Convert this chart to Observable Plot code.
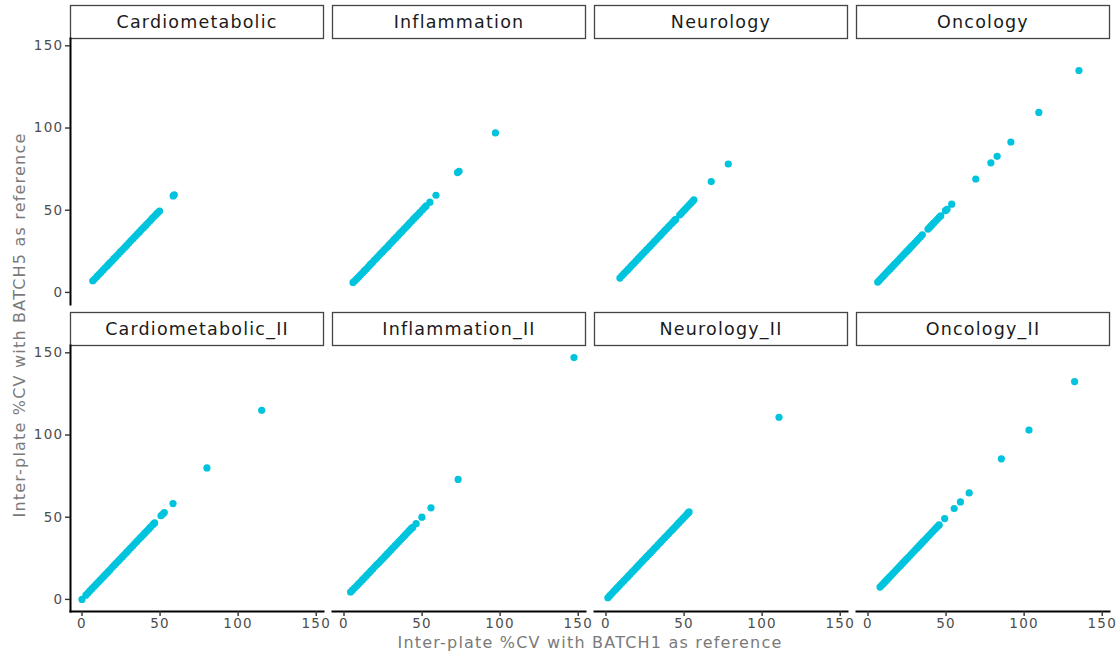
<!DOCTYPE html>
<html>
<head>
<meta charset="utf-8">
<script src="https://cdn.jsdelivr.net/npm/d3@7"></script>
<script src="https://cdn.jsdelivr.net/npm/@observablehq/plot@0.6"></script>
<style>
  html, body { margin: 0; padding: 0; background: #fff; }
  #chart svg { display: block; }
  #chart g[aria-label="y-axis tick label"] text,
  #chart g[aria-label="x-axis tick label"] text { letter-spacing: 1.3px; }
  #chart .strip text, #chart .title text { letter-spacing: 1.2px; }
</style>
</head>
<body>
<div id="chart"></div>
<script>
// Panel names, grid positions (row, column)
const panelNames = ["Cardiometabolic", "Inflammation", "Neurology", "Oncology",
                    "Cardiometabolic_II", "Inflammation_II", "Neurology_II", "Oncology_II"];
const panelRows = [0, 0, 0, 0, 1, 1, 1, 1];
const panelCols = [0, 1, 2, 3, 0, 1, 2, 3];
const xTicks = [0, 50, 100, 150];
const yTicks = [0, 50, 100, 150];
const xTitle = "Inter-plate %CV with BATCH1 as reference";
const yTitle = "Inter-plate %CV with BATCH5 as reference";

// [ %CV with BATCH1 as reference, %CV with BATCH5 as reference ]
const cardiometabolic = [[6.9,7.1],[8.2,8.3],[9.6,9.7],[10.9,11.0],[12.3,12.3],[13.6,13.7],[15.0,15.1],[16.4,16.4],[17.7,17.8],[19.1,19.1],[20.4,20.5],[21.8,21.8],[23.2,23.2],[24.5,24.6],[25.9,25.9],[27.3,27.3],[28.6,28.6],[30.0,30.0],[31.3,31.4],[32.7,32.7],[34.1,34.1],[35.4,35.4],[36.8,36.8],[38.1,38.2],[39.5,39.5],[40.9,40.9],[42.2,42.2],[43.6,43.6],[44.9,45.0],[46.3,46.3],[47.6,47.6],[48.8,48.7],[49.7,49.5],[58.4,58.7],[59.1,59.4]];
const inflammation = [[5.8,6.1],[6.9,7.1],[8.1,8.2],[9.4,9.4],[10.6,10.7],[11.9,11.9],[13.1,13.2],[14.4,14.4],[15.7,15.7],[16.9,17.0],[18.2,18.2],[19.4,19.5],[20.7,20.7],[22.0,22.0],[23.2,23.3],[24.5,24.5],[25.7,25.8],[27.0,27.0],[28.3,28.3],[29.5,29.6],[30.8,30.8],[32.0,32.1],[33.3,33.3],[34.6,34.6],[35.8,35.9],[37.1,37.1],[38.3,38.4],[39.6,39.6],[40.9,40.9],[42.1,42.2],[43.4,43.4],[44.6,44.7],[45.9,45.9],[47.2,47.2],[48.5,48.5],[50.1,50.1],[51.4,51.5],[52.6,52.6],[55.0,54.9],[58.9,59.1],[72.7,72.9],[73.7,73.7],[97.0,97.0]];
const neurology = [[8.9,8.7],[10.2,10.1],[11.5,11.4],[12.8,12.7],[14.1,14.0],[15.4,15.3],[16.7,16.6],[18.0,17.9],[19.3,19.2],[20.6,20.5],[21.9,21.8],[23.2,23.1],[24.5,24.4],[25.8,25.7],[27.1,27.0],[28.4,28.3],[29.7,29.6],[31.0,30.9],[32.3,32.2],[33.6,33.5],[34.9,34.8],[36.2,36.1],[37.5,37.4],[38.8,38.7],[40.1,40.0],[41.4,41.3],[42.7,42.6],[43.9,43.8],[44.6,44.4],[47.2,47.1],[48.4,48.3],[49.6,49.5],[50.8,50.7],[52.0,51.9],[53.2,53.1],[54.4,54.3],[55.5,55.4],[56.3,56.3],[67.4,67.4],[78.3,78.1]];
const oncology = [[6.2,6.3],[7.3,7.4],[8.5,8.6],[9.7,9.8],[10.9,11.0],[12.1,12.2],[13.3,13.4],[14.5,14.6],[15.7,15.8],[16.9,17.0],[18.1,18.2],[19.3,19.4],[20.5,20.6],[21.7,21.8],[22.9,23.0],[24.1,24.2],[25.3,25.4],[26.5,26.6],[27.7,27.8],[28.9,29.0],[30.1,30.2],[31.3,31.4],[32.5,32.6],[33.7,33.8],[34.8,35.0],[38.4,38.5],[39.6,39.7],[40.8,40.9],[42.0,42.1],[43.2,43.3],[44.4,44.5],[45.6,45.7],[46.6,46.6],[49.6,49.7],[50.6,50.6],[53.6,53.7],[69.0,69.0],[78.7,78.8],[82.7,82.8],[91.5,91.5],[109.4,109.5],[135.1,135.0]];
const cardiometabolicII = [[0.0,0.0],[2.5,2.6],[3.8,3.9],[5.1,5.2],[6.4,6.5],[7.7,7.8],[9.0,9.1],[10.3,10.4],[11.6,11.7],[12.9,13.0],[14.2,14.3],[15.5,15.6],[16.8,16.9],[18.1,18.2],[19.4,19.5],[20.7,20.8],[22.0,22.1],[23.3,23.4],[24.6,24.7],[25.9,26.0],[27.2,27.3],[28.5,28.6],[29.8,29.9],[31.1,31.2],[32.4,32.5],[33.7,33.8],[35.0,35.1],[36.3,36.4],[37.6,37.7],[38.9,39.0],[40.2,40.3],[41.5,41.6],[42.8,42.9],[44.0,44.1],[45.5,45.6],[46.5,46.5],[50.6,50.9],[51.6,51.8],[52.7,52.8],[58.3,58.3],[80.0,80.0],[115.1,115.0]];
const inflammationII = [[4.2,4.5],[5.4,5.6],[6.7,6.9],[8.0,8.1],[9.3,9.4],[10.6,10.7],[11.9,12.0],[13.2,13.3],[14.5,14.6],[15.8,15.9],[17.1,17.2],[18.4,18.5],[19.7,19.8],[21.0,21.1],[22.3,22.3],[23.6,23.6],[24.9,24.9],[26.2,26.2],[27.5,27.5],[28.8,28.8],[30.1,30.1],[31.4,31.4],[32.7,32.7],[34.0,34.0],[35.3,35.3],[36.6,36.6],[37.9,37.9],[39.2,39.2],[40.5,40.5],[41.8,41.8],[43.0,43.0],[44.0,43.8],[46.2,46.1],[49.9,50.0],[55.7,55.7],[73.1,73.0],[147.3,147.1]];
const neurologyII = [[1.2,1.0],[2.4,2.3],[3.7,3.6],[5.0,4.9],[6.3,6.2],[7.6,7.5],[8.9,8.8],[10.2,10.1],[11.5,11.4],[12.8,12.7],[14.1,14.0],[15.4,15.3],[16.7,16.6],[18.0,17.9],[19.3,19.2],[20.6,20.5],[21.9,21.8],[23.2,23.1],[24.5,24.4],[25.8,25.7],[27.1,27.0],[28.4,28.3],[29.7,29.6],[31.0,30.9],[32.3,32.2],[33.6,33.5],[34.9,34.8],[36.2,36.1],[37.5,37.4],[38.8,38.7],[40.1,40.0],[41.4,41.3],[42.7,42.6],[44.0,43.9],[45.3,45.2],[46.6,46.5],[47.9,47.8],[49.2,49.1],[50.5,50.4],[51.7,51.6],[52.6,52.6],[53.2,53.2],[110.8,110.8]];
const oncologyII = [[7.7,7.5],[8.9,8.7],[10.1,9.9],[11.3,11.1],[12.5,12.3],[13.7,13.5],[14.9,14.7],[16.1,15.9],[17.3,17.1],[18.5,18.3],[19.7,19.5],[20.9,20.7],[22.1,21.9],[23.3,23.1],[24.5,24.3],[25.7,25.5],[26.9,26.7],[28.1,27.9],[29.3,29.1],[30.5,30.3],[31.7,31.5],[32.9,32.7],[34.1,33.9],[35.3,35.1],[36.5,36.3],[37.7,37.5],[38.9,38.7],[40.1,39.9],[41.3,41.1],[42.5,42.3],[43.7,43.5],[44.8,44.6],[45.6,45.3],[49.1,49.2],[55.2,55.3],[59.2,59.3],[64.8,64.8],[85.4,85.5],[103.1,103.0],[132.3,132.5]];

const panelData = [cardiometabolic, inflammation, neurology, oncology,
                   cardiometabolicII, inflammationII, neurologyII, oncologyII];

// Build tables
const panels = panelNames.map((name, i) => ({name, row: panelRows[i], col: panelCols[i]}));
const points = panelData.flatMap((arr, i) =>
  arr.map(([b1, b5]) => ({panel: panelNames[i], row: panelRows[i], col: panelCols[i], b1, b5})));

// ggplot-like 5% expansion of shared scales
function expand([lo, hi]) { const d = (hi - lo) * 0.05; return [lo - d, hi + d]; }
const xDomain = expand(d3.extent(points, d => d.b1));
const yDomain = expand(d3.extent(points, d => d.b5));

const stripH = 33;
const plot = Plot.plot({
  width: 1120,
  height: 653,
  marginLeft: 69.5,
  marginRight: 10.5,
  marginTop: 38,
  marginBottom: 42,
  style: {fontFamily: "'DejaVu Sans', sans-serif", background: "#fff", overflow: "visible"},
  x: {domain: xDomain, label: null},
  y: {domain: yDomain, label: null},
  fx: {domain: [0, 1, 2, 3], paddingInner: 0.033, paddingOuter: 0, axis: null, label: null},
  fy: {domain: [0, 1], paddingInner: 0.1336, paddingOuter: 0, axis: null, label: null},
  marks: [
    // strip boxes
    Plot.frame({fill: "#fff", stroke: "#444", strokeWidth: 1.3, insetTop: -stripH, insetBottom: 266, className: "stripbox"}),
    Plot.text(panels, {fx: "col", fy: "row", text: "name", frameAnchor: "top", dy: -stripH / 2,
      fontSize: 17.5, fill: "#1a1a1a", lineAnchor: "middle", className: "strip"}),
    // axis lines
    Plot.frame({anchor: "left", facetAnchor: "left", stroke: "#000", strokeWidth: 2}),
    Plot.frame({anchor: "bottom", facetAnchor: "bottom", stroke: "#000", strokeWidth: 2}),
    Plot.axisY(yTicks, {facetAnchor: "left", tickSize: 5, tickPadding: 2, fontSize: 13.5,
      stroke: "#333", strokeWidth: 1.4, fill: "#4d4d4d", label: null}),
    Plot.axisX(xTicks, {facetAnchor: "bottom", tickSize: 5, tickPadding: 2, fontSize: 13.5,
      stroke: "#333", strokeWidth: 1.4, fill: "#4d4d4d", label: null}),
    Plot.dot(points, {x: "b1", y: "b5", fx: "col", fy: "row", r: 3.6, fill: "#00C4DD", stroke: null}),
    // axis titles
    Plot.text([xTitle], {facet: "super", frameAnchor: "bottom", dy: 31, fontSize: 16,
      fill: "#7a7a7a", textAnchor: "middle", lineAnchor: "middle", className: "title"}),
    Plot.text([yTitle], {facet: "super", frameAnchor: "left", dx: -51, rotate: -90, fontSize: 16,
      fill: "#7a7a7a", textAnchor: "middle", lineAnchor: "middle", className: "title"})
  ]
});
document.getElementById("chart").appendChild(plot);
</script>
</body>
</html>
